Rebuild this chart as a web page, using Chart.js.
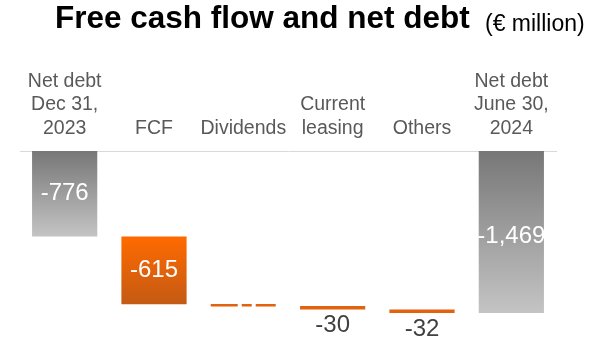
<!DOCTYPE html>
<html>
<head>
<meta charset="utf-8">
<script src="https://cdn.jsdelivr.net/npm/chart.js@4"></script>
<style>
  html, body { margin: 0; padding: 0; background: #fff; }
  #wrap { position: relative; width: 607px; height: 359px; }
  .titulo {
    position: absolute; white-space: nowrap; color: #000;
    font-family: "Liberation Sans", Arial, sans-serif; line-height: 1;
  }
  #titulo1 { left: 55px; top: 2px; font-size: 31.5px; font-weight: bold; }
  #titulo2 { left: 485px; top: 12px; font-size: 23px; }
</style>
</head>
<body>
<div id="wrap">
  <canvas id="graph" width="607" height="359"></canvas>
  <div id="titulo1" class="titulo">Free cash flow and net debt</div>
  <div id="titulo2" class="titulo">(€ million)</div>
</div>
<script>
// datos del grafico
const categorias = [
    ['Net debt', 'Dec 31,', '2023'],
    'FCF',
    'Dividends',
    ['Current', 'leasing'],
    'Others',
    ['Net debt', 'June 30,', '2024']
];
const valores = [-776, -615, -16, -30, -32, -1469];
const tipos = ['total', 'paso', 'paso', 'paso', 'paso', 'total'];
const etiquetas = ['-776', '-615', '', '-30', '-32', '-1,469'];

// barras flotantes de la cascada
const barras = [];
let acumulado = 0;
valores.forEach((v, i) => {
    if (tipos[i] === 'total') {
        barras.push([0, v]);
        acumulado = v;
    } else {
        barras.push([acumulado, acumulado + v]);
        acumulado += v;
    }
});

const colorBarra = (ctx) => {
    const chart = ctx.chart;
    const i = ctx.dataIndex;
    if (!chart.chartArea || !chart.scales.y) return '#999';
    const y = chart.scales.y;
    const top = y.getPixelForValue(barras[i][0]);
    const bottom = y.getPixelForValue(barras[i][1]);
    const c = chart.ctx;
    if (tipos[i] === 'total') {
        const g = c.createLinearGradient(0, top, 0, bottom);
        g.addColorStop(0, '#777777');
        g.addColorStop(1, '#c4c4c4');
        return g;
    }
    if (i === 1) {
        const g = c.createLinearGradient(0, top, 0, bottom);
        g.addColorStop(0, '#ff6a00');
        g.addColorStop(1, '#c45a14');
        return g;
    }
    if (i === 2) return 'rgba(0,0,0,0)';
    return '#e2630f';
};

// etiquetas de valores y barra punteada
const pluginEtiquetas = {
    id: 'etiquetas',
    afterDatasetsDraw(chart) {
        const c = chart.ctx;
        const meta = chart.getDatasetMeta(0);
        meta.data.forEach((bar, i) => {
            if (i === 2) {
                const medio = (bar.y + bar.base) / 2;
                c.save();
                c.strokeStyle = '#e2630f';
                c.lineWidth = 2.5;
                c.setLineDash([27, 4, 10, 4, 20]);
                c.beginPath();
                c.moveTo(bar.x - bar.width / 2, medio);
                c.lineTo(bar.x + bar.width / 2, medio);
                c.stroke();
                c.restore();
            }
            if (!etiquetas[i]) return;
            c.save();
            c.textAlign = 'center';
            c.textBaseline = 'middle';
            c.font = '24px "Liberation Sans", Arial, sans-serif';
            if (Math.abs(bar.base - bar.y) > 40) {
                c.fillStyle = '#ffffff';
                c.fillText(etiquetas[i], bar.x, (bar.y + bar.base) / 2 + (i === 5 ? 4 : 0));
            } else {
                c.fillStyle = '#404040';
                c.fillText(etiquetas[i], bar.x, Math.max(bar.y, bar.base) + 16);
            }
            c.restore();
        });
    }
};

const graph = document.querySelector('#graph');
new Chart(graph, {
    type: 'bar',
    data: {
        labels: categorias,
        datasets: [{
            data: barras,
            backgroundColor: colorBarra,
            borderSkipped: false,
            barPercentage: 0.73,
            categoryPercentage: 1
        }]
    },
    options: {
        responsive: false,
        animation: false,
        layout: { padding: { left: 20, right: 51, top: 0, bottom: 9 } },
        plugins: {
            legend: { display: false },
            tooltip: { enabled: false }
        },
        scales: {
            x: {
                position: 'top',
                grid: { display: false, drawTicks: false },
                border: { display: true, color: '#d9d9d9', width: 1 },
                ticks: {
                    color: '#595959',
                    padding: 11,
                    maxRotation: 0,
                    autoSkip: false,
                    font: { family: '"Liberation Sans", Arial, sans-serif', size: 19.5, lineHeight: 1.2 }
                },
                afterFit: (axis) => { axis.height = 151; }
            },
            y: {
                display: false,
                min: -1805,
                max: 0
            }
        }
    },
    plugins: [pluginEtiquetas]
});
</script>
</body>
</html>
